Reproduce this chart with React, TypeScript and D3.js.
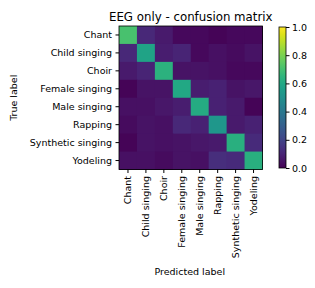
import React, { useEffect, useRef } from 'react';
import * as d3 from 'd3';

const labels = ['Chant', 'Child singing', 'Choir', 'Female singing', 'Male singing', 'Rapping', 'Synthetic singing', 'Yodeling'];

// rows = true label, columns = predicted label
const rowChant = [0.71, 0.11, 0.07, 0.02, 0.02, 0.01, 0.02, 0.02];
const rowChild = [0.11, 0.58, 0.08, 0.10, 0.02, 0.04, 0.03, 0.05];
const rowChoir = [0.07, 0.10, 0.64, 0.05, 0.05, 0.04, 0.02, 0.02];
const rowFemale = [0.01, 0.05, 0.05, 0.60, 0.08, 0.09, 0.05, 0.06];
const rowMale = [0.04, 0.04, 0.06, 0.08, 0.61, 0.09, 0.07, 0.01];
const rowRapping = [0.03, 0.05, 0.04, 0.11, 0.09, 0.53, 0.07, 0.09];
const rowSynthetic = [0.01, 0.05, 0.04, 0.05, 0.06, 0.07, 0.63, 0.12];
const rowYodeling = [0.04, 0.04, 0.03, 0.05, 0.04, 0.13, 0.12, 0.63];

const matrix = [rowChant, rowChild, rowChoir, rowFemale, rowMale, rowRapping, rowSynthetic, rowYodeling];
const cbTicks = [0, 0.2, 0.4, 0.6, 0.8, 1.0];

const FONT = 'DejaVu Sans';
const TICK_FS = '9.5px';

export default function App() {
  const ref = useRef<SVGSVGElement>(null);

  useEffect(() => {
    const svg = d3.select(ref.current);
    svg.selectAll('*').remove();

    const left = 119, top = 26, size = 143.5;
    const x = d3.scaleBand<string>().domain(labels).range([left, left + size]);
    const y = d3.scaleBand<string>().domain(labels).range([top, top + size]);
    const color = d3.scaleSequential(d3.interpolateViridis).domain([0, 1]);

    const cells = matrix.flatMap((row, i) => row.map((v, j) => ({ r: labels[i], c: labels[j], v })));
    svg.append('g').selectAll('rect').data(cells).enter().append('rect')
      .attr('x', d => x(d.c)!)
      .attr('y', d => y(d.r)!)
      .attr('width', x.bandwidth() + 0.5)
      .attr('height', y.bandwidth() + 0.5)
      .attr('fill', d => color(d.v));

    svg.append('rect')
      .attr('x', left).attr('y', top).attr('width', size).attr('height', size)
      .attr('fill', 'none').attr('stroke', '#000').attr('stroke-width', 0.8);

    const xAxis = svg.append('g')
      .attr('transform', `translate(0,${top + size})`)
      .call(d3.axisBottom(x).tickSizeOuter(0).tickSize(3.5).tickPadding(3));
    xAxis.select('.domain').remove();
    xAxis.selectAll('text')
      .attr('transform', 'rotate(-90)')
      .attr('text-anchor', 'end')
      .attr('x', -6.5).attr('y', 0).attr('dy', '0.35em')
      .style('font-family', FONT).style('font-size', TICK_FS).attr('fill', '#000');

    const yAxis = svg.append('g')
      .attr('transform', `translate(${left},0)`)
      .call(d3.axisLeft(y).tickSizeOuter(0).tickSize(3.5).tickPadding(3.5));
    yAxis.select('.domain').remove();
    yAxis.selectAll('text')
      .style('font-family', FONT).style('font-size', TICK_FS).attr('fill', '#000');

    svg.append('text')
      .attr('x', left + size / 2).attr('y', 21)
      .attr('text-anchor', 'middle')
      .style('font-family', FONT).style('font-size', '11.8px')
      .text('EEG only - confusion matrix');

    svg.append('text')
      .attr('x', left + size / 2 - 1).attr('y', 275)
      .attr('text-anchor', 'middle')
      .style('font-family', FONT).style('font-size', TICK_FS)
      .text('Predicted label');

    svg.append('text')
      .attr('transform', `translate(17,${top + size / 2}) rotate(-90)`)
      .attr('text-anchor', 'middle')
      .style('font-family', FONT).style('font-size', TICK_FS)
      .text('True label');

    // colorbar
    const cbX = 279, cbW = 7, cbTop = 27, cbBot = 168;
    const cy = d3.scaleLinear().domain([0, 1]).range([cbBot, cbTop]);
    const defs = svg.append('defs');
    const grad = defs.append('linearGradient').attr('id', 'cbgrad')
      .attr('x1', 0).attr('y1', 1).attr('x2', 0).attr('y2', 0);
    d3.range(0, 1.0001, 0.05).forEach(t => {
      grad.append('stop').attr('offset', t).attr('stop-color', color(t));
    });
    svg.append('rect')
      .attr('x', cbX).attr('y', cbTop).attr('width', cbW).attr('height', cbBot - cbTop)
      .attr('fill', 'url(#cbgrad)').attr('stroke', '#000').attr('stroke-width', 0.8);
    const cAxis = svg.append('g')
      .attr('transform', `translate(${cbX + cbW},0)`)
      .call(d3.axisRight(cy).tickValues(cbTicks).tickFormat(d3.format('.1f')).tickSize(3.5).tickPadding(2.5).tickSizeOuter(0));
    cAxis.select('.domain').remove();
    cAxis.selectAll('text')
      .style('font-family', FONT).style('font-size', TICK_FS).attr('fill', '#000');
  }, []);

  return <svg ref={ref} width={315} height={288} style={{ display: 'block', margin: -8 }} />;
}
